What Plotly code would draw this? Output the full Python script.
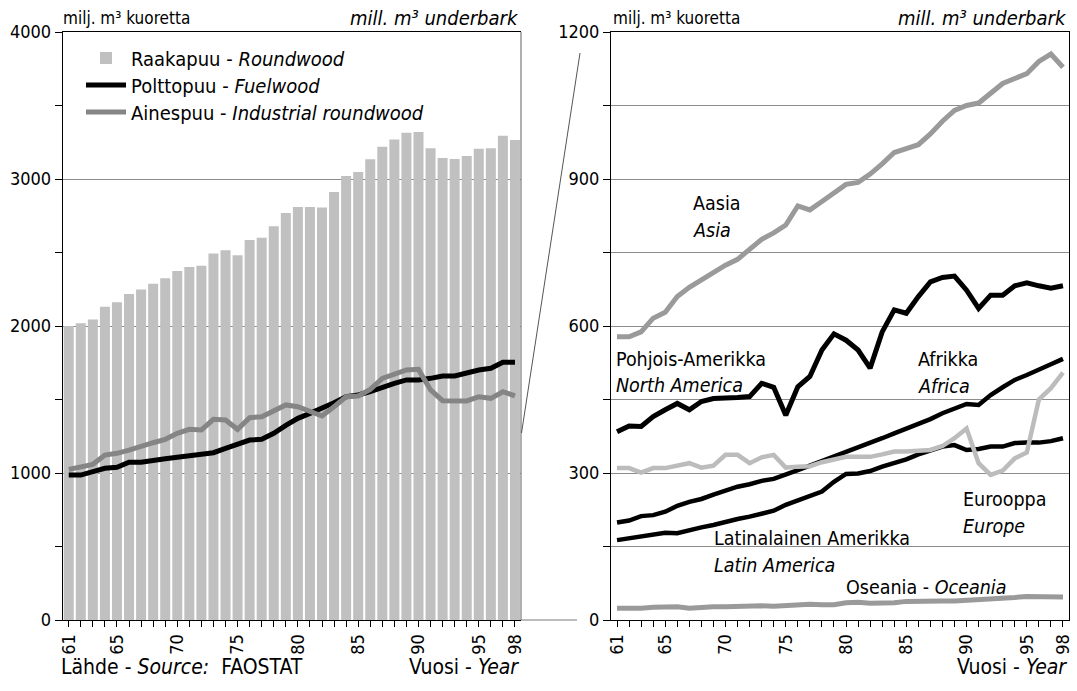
import plotly.graph_objects as go

# ---------------- data ----------------
years = list(range(61, 99))
tick_years = [61, 65, 70, 75, 80, 85, 90, 95, 98]
tick_labels = ["61", "65", "70", "75", "80", "85", "90", "95", "98"]

# world totals, mill. m3 underbark
roundwood = [2000, 2018, 2045, 2131, 2161, 2218, 2249, 2288, 2324, 2374,
             2401, 2410, 2494, 2515, 2481, 2585, 2601, 2678, 2769, 2810,
             2810, 2806, 2912, 3020, 3048, 3134, 3220, 3268, 3315, 3320,
             3210, 3143, 3136, 3156, 3205, 3210, 3295, 3265]
fuelwood = [986, 986, 1009, 1032, 1039, 1073, 1073, 1088, 1097, 1107,
            1116, 1122, 1138, 1168, 1195, 1224, 1229, 1270, 1324, 1372,
            1406, 1440, 1478, 1519, 1531, 1553, 1583, 1610, 1633, 1633,
            1644, 1660, 1660, 1682, 1701, 1712, 1753, 1753]
industrial = [1025, 1043, 1059, 1122, 1134, 1156, 1184, 1206, 1229, 1270,
              1297, 1293, 1365, 1361, 1297, 1376, 1383, 1422, 1463, 1451,
              1417, 1388, 1451, 1519, 1524, 1569, 1644, 1671, 1701, 1705,
              1565, 1492, 1490, 1490, 1519, 1508, 1553, 1524]

# by region
asia = [578, 578, 588, 616, 628, 660, 679, 694, 711, 724,
        736, 757, 777, 790, 806, 845, 837, 854, 872, 889,
        893, 910, 931, 954, 962, 970, 992, 1018, 1040, 1050,
        1055, 1075, 1095, 1105, 1115, 1140, 1155, 1128]
north_america = [384, 396, 395, 415, 429, 442, 429, 446, 452, 452,
                 454, 456, 483, 475, 418, 476, 497, 551, 584, 571,
                 551, 514, 588, 633, 626, 660, 690, 699, 702, 673,
                 636, 663, 663, 682, 688, 682, 677, 682]
africa = [199, 203, 212, 214, 221, 233, 241, 247, 256, 264,
          272, 277, 284, 288, 296, 306, 315, 324, 333, 344,
          353, 362, 371, 381, 391, 399, 410, 422, 432, 441,
          439, 459, 475, 490, 500, 510, 522, 533]
latin_america = [163, 167, 169, 173, 178, 177, 184, 189, 194, 201,
                 206, 211, 216, 223, 235, 244, 252, 262, 282, 298,
                 299, 304, 313, 320, 328, 338, 346, 354, 357, 347,
                 349, 354, 354, 361, 362, 362, 365, 371]
europe = [310, 310, 301, 310, 310, 316, 320, 311, 315, 337,
          337, 320, 332, 337, 311, 313, 314, 322, 328, 333,
          333, 333, 338, 344, 344, 346, 347, 355, 371, 391,
          320, 296, 305, 330, 342, 450, 473, 505]
oceania = [24, 23, 24, 26, 26, 27, 24, 26, 27, 27,
           28, 28, 29, 28, 30, 31, 32, 31, 31, 35,
           36, 34, 34, 35, 38, 39, 39, 39, 39, 40,
           42, 42, 44, 46, 48, 48, 48, 47]

# ---------------- layout helpers ----------------
W, H = 1077, 691
FONT = "Liberation Sans Narrow, Arial Narrow, DejaVu Sans Condensed, sans-serif"


def px(x):
    return min(max(x / W, 0.0), 1.0)


def py(y):
    return min(max(1 - y / H, 0.0), 1.0)


fig = go.Figure()

fig.add_trace(go.Bar(x=years, y=roundwood, marker=dict(color="#c0c0c0", line=dict(width=0)),
                     name="Raakapuu - <i>Roundwood</i>", xaxis="x", yaxis="y", legend="legend"))
fig.add_trace(go.Scatter(x=years, y=fuelwood, mode="lines", line=dict(color="black", width=5),
                         name="Polttopuu - <i>Fuelwood</i>", xaxis="x", yaxis="y", legend="legend2"))
fig.add_trace(go.Scatter(x=years, y=industrial, mode="lines", line=dict(color="#858585", width=5),
                         name="Ainespuu - <i>Industrial roundwood</i>", xaxis="x", yaxis="y",
                         legend="legend3"))

regions = [
    (asia, "#9a9a9a", 5, "Aasia"),
    (north_america, "black", 5, "Pohjois-Amerikka"),
    (africa, "black", 4.5, "Afrikka"),
    (latin_america, "black", 4.5, "Latinalainen Amerikka"),
    (europe, "#bcbcbc", 4.5, "Eurooppa"),
    (oceania, "#9a9a9a", 5, "Oseania"),
]
for vals, col, w, nm in regions:
    fig.add_trace(go.Scatter(x=years, y=vals, mode="lines", line=dict(color=col, width=w),
                             name=nm, showlegend=False, xaxis="x2", yaxis="y2"))

TICKFONT = dict(family=FONT, size=18, color="black")
xcommon = dict(range=[60.5, 98.5], tickmode="array", tickvals=tick_years, ticktext=tick_labels,
               tickangle=-90, ticks="outside", ticklen=6, tickcolor="black",
               showline=True, linecolor="black", linewidth=1, mirror=True,
               showgrid=False, zeroline=False, tickfont=TICKFONT, automargin=False,
               minor=dict(tickmode="linear", tick0=61, dtick=1, ticks="outside",
                          ticklen=6, tickcolor="black", showgrid=False))


def leg(y):
    return dict(x=px(81), y=py(y), xanchor="left", yanchor="middle",
                bgcolor="rgba(0,0,0,0)", font=dict(family=FONT, size=20, color="black"),
                itemwidth=40)


fig.update_layout(
    width=W, height=H, autosize=False,
    margin=dict(l=0, r=0, t=0, b=0, autoexpand=False),
    paper_bgcolor="white", plot_bgcolor="white",
    font=dict(family=FONT, size=18, color="black"),
    bargap=0.17,
    showlegend=True,
    legend=leg(58), legend2=leg(85), legend3=leg(112),
    xaxis=dict(domain=[px(62.7), px(521)], anchor="y", **xcommon),
    yaxis=dict(domain=[py(620), py(32)], anchor="x", range=[0, 4000],
               tickmode="linear", tick0=0, dtick=1000,
               ticks="outside", ticklen=7, tickcolor="black",
               showline=True, linecolor="black", linewidth=1, automargin=False,
               showgrid=True, gridcolor="#8c8c8c", gridwidth=1, zeroline=False,
               tickfont=TICKFONT,
               minor=dict(tickmode="linear", tick0=0, dtick=500, ticks="outside",
                          ticklen=7, tickcolor="black", showgrid=False)),
    xaxis2=dict(domain=[px(611), px(1069)], anchor="y2", **xcommon),
    yaxis2=dict(domain=[py(620), py(32)], anchor="x2", range=[0, 1200],
                tickmode="linear", tick0=0, dtick=300,
                ticks="outside", ticklen=7, tickcolor="black",
                showline=True, linecolor="black", linewidth=1, mirror=True, automargin=False,
                showgrid=True, gridcolor="#8c8c8c", gridwidth=1, zeroline=False,
                tickfont=TICKFONT,
                minor=dict(tickmode="linear", tick0=0, dtick=150, ticks="outside",
                           ticklen=7, tickcolor="black", showgrid=True,
                           gridcolor="#8c8c8c", gridwidth=1)),
)

shapes = [
    dict(type="line", xref="paper", yref="paper", x0=px(521), x1=px(521), y0=py(620), y1=py(32),
         line=dict(color="#7a7a7a", width=1.2)),
    dict(type="line", xref="paper", yref="paper", x0=px(521), x1=px(577), y0=py(620), y1=py(620),
         line=dict(color="#7a7a7a", width=1.2)),
    dict(type="line", xref="paper", yref="paper", x0=px(580), x1=px(521.5), y0=py(53), y1=py(433),
         line=dict(color="#555555", width=1)),
]
fig.update_layout(shapes=shapes)

ann = []


def text(x, y, t, anchor="left", size=19.5):
    ann.append(dict(x=px(x), y=py(y), xref="paper", yref="paper", text=t, showarrow=False,
                    xanchor=anchor, yanchor="middle", font=dict(family=FONT, size=size, color="black")))


text(61, 18, "milj. m³ kuoretta", size=17)
text(521, 18, "<i>mill. m³ underbark</i>", anchor="right", size=20)
text(611, 18, "milj. m³ kuoretta", size=17)
text(1069, 18, "<i>mill. m³ underbark</i>", anchor="right", size=20)
text(59, 667, "Lähde - <i>Source:</i>  FAOSTAT", size=21)
text(521, 667, "Vuosi - <i>Year</i>", anchor="right", size=21)
text(1069, 667, "Vuosi - <i>Year</i>", anchor="right", size=21)
text(691, 203, "Aasia")
text(691, 230, "<i>Asia</i>")
text(614, 359, "Pohjois-Amerikka")
text(614, 385, "<i>North America</i>")
text(916, 359, "Afrikka")
text(916, 386, "<i>Africa</i>")
text(961, 499, "Eurooppa")
text(961, 526, "<i>Europe</i>")
text(712, 538, "Latinalainen Amerikka")
text(712, 565, "<i>Latin America</i>")
text(844, 587, "Oseania - <i>Oceania</i>")
fig.update_layout(annotations=ann)

fig.write_html("out.html", config={"displayModeBar": False},
               post_script="document.body.style.margin='0';")
